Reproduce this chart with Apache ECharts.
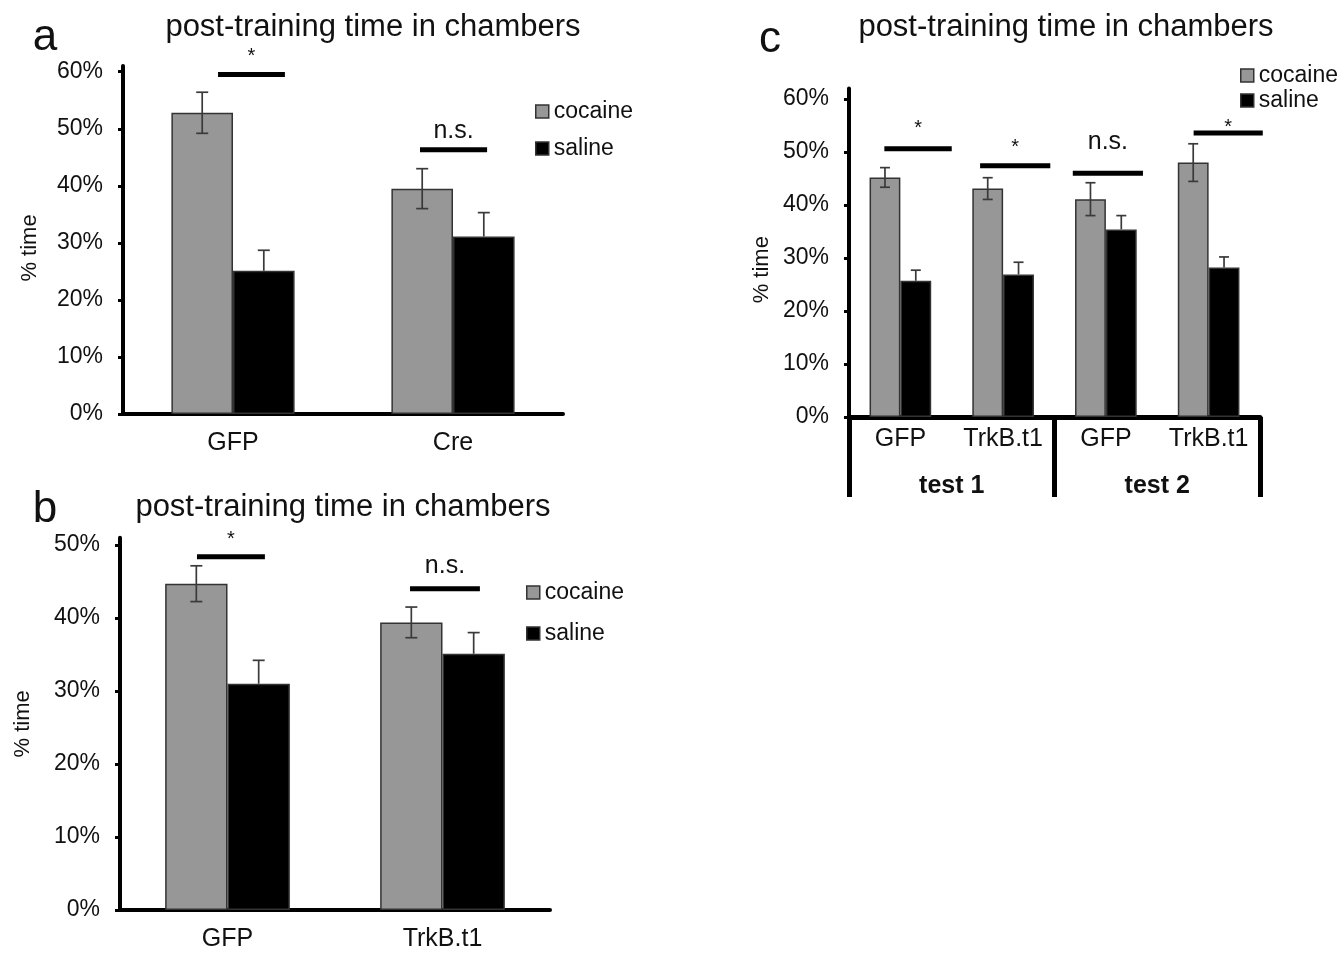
<!DOCTYPE html>
<html>
<head>
<meta charset="utf-8">
<script src="https://cdn.jsdelivr.net/npm/echarts@6.0.0/dist/echarts.min.js"></script>
<style>
  html, body {margin: 0; padding: 0; background: #fff;}
  #main {width: 1343px; height: 953px;}
</style>
</head>
<body>
<div id="main"></div>
<script>
// panel a
const catsA = ['GFP', 'Cre'];
const cocaineA = [52.8, 39.5];
const salineA = [25.1, 31.1];
const cocaineErrA = [3.6, 3.5];
const salineErrA = [3.6, 4.2];
const sigLevelA = [[0, 59.5, 62.6], [1, 46.3, 49.6]];   // [category, line, text]
const sigTextA = ['*', 'n.s.'];

// panel b
const catsB = ['GFP', 'TrkB.t1'];
const cocaineB = [44.7, 39.4];
const salineB = [31.0, 35.1];
const cocaineErrB = [2.45, 2.1];
const salineErrB = [3.2, 2.9];
const sigLevelB = [[0, 48.4, 50.7], [1, 44.0, 47.1]];
const sigTextB = ['*', 'n.s.'];

// panel c
const catsC = ['GFP', 'TrkB.t1', 'GFP', 'TrkB.t1'];
const testsC = ['test 1', 'test 2'];
const cocaineC = [45.2, 43.1, 41.1, 48.0];
const salineC = [25.7, 26.9, 35.4, 28.2];
const cocaineErrC = [1.85, 2.05, 3.1, 3.55];
const salineErrC = [2.0, 2.3, 2.6, 2.0];
const sigLevelC = [[0, 50.6, 54.5], [1, 47.4, 50.8], [2, 46.0, 51.8], [3, 53.6, 54.7]];
const sigTextC = ['*', '*', 'n.s.', '*'];

// horizontal extent of the significance lines, in category widths from the centre
const spanA = [[-0.068, 0.236], [-0.15, 0.155]];
const spanB = [[-0.142, 0.174], [-0.151, 0.174]];
const spanC = [[-0.156, 0.5], [-0.224, 0.459], [-0.322, 0.361], [-0.146, 0.527]];

const FONT = '"Liberation Sans", Arial, sans-serif';
const GRAY = '#979797';
const EDGE = '#333';

let chart = echarts.init(document.getElementById('main'));

function xAxisOf(grid, cats) {
    return {
        type: 'category', gridIndex: grid, data: cats,
        axisLine: {lineStyle: {color: '#000', width: 4}},
        axisTick: {length: 6, lineStyle: {color: '#000', width: 4}},
        axisLabel: {interval: 0, fontSize: 25, color: '#111', fontFamily: FONT, margin: 17}
    };
}

function yAxisOf(grid, max, gap, shift) {
    return {
        type: 'value', gridIndex: grid, min: 0, max: max, interval: 10,
        splitLine: {show: false},
        axisLine: {show: true, lineStyle: {color: '#000', width: 4}},
        axisTick: {show: true, length: 5, lineStyle: {color: '#000', width: 3}},
        axisLabel: {formatter: '{value}%', showMaxLabel: false, fontSize: 23, color: '#111', fontFamily: FONT, margin: 20},
        name: '% time', nameLocation: 'middle', nameGap: gap,
        nameTextStyle: {fontSize: 22, color: '#111', fontFamily: FONT, padding: [0, shift, 0, 0]}
    };
}

function barsOf(axis, name, vals, color, width) {
    return {
        name: name, type: 'bar', xAxisIndex: axis[0], yAxisIndex: axis[1],
        data: vals, barWidth: width, barGap: '0%',
        itemStyle: {color: color, borderColor: EDGE, borderWidth: 1.5},
        silent: true
    };
}

// error bars at the centre of the cocaine (side -1) or saline (side 1) bar;
// the saline ones only show above the black bar
function errorsOf(axis, vals, errs, side, frac, cap) {
    return {
        type: 'custom', xAxisIndex: axis[0], yAxisIndex: axis[1], z: 10, silent: true,
        data: vals.map((v, i) => [i, v, errs[i]]),
        renderItem: function (params, api) {
            let i = api.value(0), v = api.value(1), e = api.value(2);
            let band = api.size([1, 0])[0];
            let top = api.coord([i, v + e]);
            let bot = api.coord([i, side > 0 ? v : v - e]);
            let x = top[0] + side * band * frac / 2;
            let st = {stroke: '#3a3a3a', lineWidth: 1.7};
            let parts = [
                {type: 'line', shape: {x1: x, y1: top[1], x2: x, y2: bot[1]}, style: st},
                {type: 'line', shape: {x1: x - cap / 2, y1: top[1], x2: x + cap / 2, y2: top[1]}, style: st}
            ];
            if (side < 0) {
                parts.push({type: 'line', shape: {x1: x - cap / 2, y1: bot[1], x2: x + cap / 2, y2: bot[1]}, style: st});
            }
            return {type: 'group', children: parts};
        }
    };
}

function sigOf(axis, levels, texts, spans) {
    return {
        type: 'custom', xAxisIndex: axis[0], yAxisIndex: axis[1], z: 11, silent: true,
        data: levels,
        renderItem: function (params, api) {
            let i = api.value(0);
            let band = api.size([1, 0])[0];
            let p = api.coord([i, api.value(1)]);
            let t = api.coord([i, api.value(2)]);
            let sp = spans[params.dataIndex];
            let x1 = p[0] + sp[0] * band, x2 = p[0] + sp[1] * band;
            let txt = texts[params.dataIndex];
            return {
                type: 'group', children: [
                    {type: 'line', shape: {x1: x1, y1: p[1], x2: x2, y2: p[1]}, style: {stroke: '#000', lineWidth: 5}},
                    {type: 'text', x: (x1 + x2) / 2, y: t[1], style: {
                        text: txt, fill: '#111', fontFamily: FONT,
                        fontSize: txt === '*' ? 20 : 25,
                        align: 'center', verticalAlign: 'middle'
                    }}
                ]
            };
        }
    };
}

function legendOf(left, top, gap) {
    return {
        left: left, top: top, orient: 'vertical', padding: 0, itemGap: gap,
        itemWidth: 13, itemHeight: 13, icon: 'rect', selectedMode: false,
        data: ['cocaine', 'saline'],
        itemStyle: {borderColor: EDGE, borderWidth: 1.5},
        textStyle: {fontSize: 23, color: '#111', fontFamily: FONT}
    };
}

function label(text, x, y, size, weight) {
    return {
        type: 'text', x: x, y: y,
        style: {text: text, fontSize: size, fontWeight: weight || 'normal', fontFamily: FONT,
            fill: '#111', align: 'center', verticalAlign: 'middle'}
    };
}

chart.setOption({
    animation: false,
    backgroundColor: '#fff',
    grid: [
        {left: 123, top: 414 - 61 * 5.705, width: 440, height: 61 * 5.705, containLabel: false, outerBoundsMode: 'none'},
        {left: 120, top: 910 - 51 * 7.3, width: 430, height: 51 * 7.3, containLabel: false, outerBoundsMode: 'none'},
        {left: 849, top: 417 - 62 * 5.3, width: 411, height: 62 * 5.3, containLabel: false, outerBoundsMode: 'none'}
    ],
    xAxis: [
        xAxisOf(0, catsA),
        xAxisOf(1, catsB),
        Object.assign(xAxisOf(2, catsC), {
            axisTick: {length: 40, lineStyle: {color: '#000', width: 5}},
            axisLine: {lineStyle: {color: '#000', width: 5}},
            axisLabel: {interval: 0, hideOverlap: false, fontSize: 25, color: '#111', fontFamily: FONT, margin: 10}
        }),
        {
            type: 'category', gridIndex: 2, data: testsC, position: 'bottom',
            axisLine: {show: false},
            axisTick: {show: true, length: 80, lineStyle: {color: '#000', width: 5}},
            axisLabel: {interval: 0, fontSize: 25, fontWeight: 'bold', color: '#111', fontFamily: FONT, margin: 57}
        }
    ],
    yAxis: [
        yAxisOf(0, 61, 82, 16),
        yAxisOf(1, 51, 86, 0),
        yAxisOf(2, 62, 76, 34)
    ],
    legend: [
        legendOf(535, 100, 14),
        legendOf(526, 581, 18),
        legendOf(1240, 64, 2)
    ],
    graphic: [
        label('a', 45, 38, 44),
        label('post-training time in chambers', 373, 27, 31),
        label('b', 45, 510, 44),
        label('post-training time in chambers', 343, 507, 31),
        label('c', 770, 40, 44),
        label('post-training time in chambers', 1066, 27, 31)
    ],
    series: [
        barsOf([0, 0], 'cocaine', cocaineA, GRAY, '28%'),
        barsOf([0, 0], 'saline', salineA, '#000', '28%'),
        errorsOf([0, 0], cocaineA, cocaineErrA, -1, 0.28, 12),
        errorsOf([0, 0], salineA, salineErrA, 1, 0.28, 12),
        sigOf([0, 0], sigLevelA, sigTextA, spanA),

        barsOf([1, 1], 'cocaine', cocaineB, GRAY, '29%'),
        barsOf([1, 1], 'saline', salineB, '#000', '29%'),
        errorsOf([1, 1], cocaineB, cocaineErrB, -1, 0.29, 12),
        errorsOf([1, 1], salineB, salineErrB, 1, 0.29, 12),
        sigOf([1, 1], sigLevelB, sigTextB, spanB),

        barsOf([2, 2], 'cocaine', cocaineC, GRAY, '30%'),
        barsOf([2, 2], 'saline', salineC, '#000', '30%'),
        errorsOf([2, 2], cocaineC, cocaineErrC, -1, 0.30, 10),
        errorsOf([2, 2], salineC, salineErrC, 1, 0.30, 10),
        sigOf([2, 2], sigLevelC, sigTextC, spanC)
    ]
});
</script>
</body>
</html>
